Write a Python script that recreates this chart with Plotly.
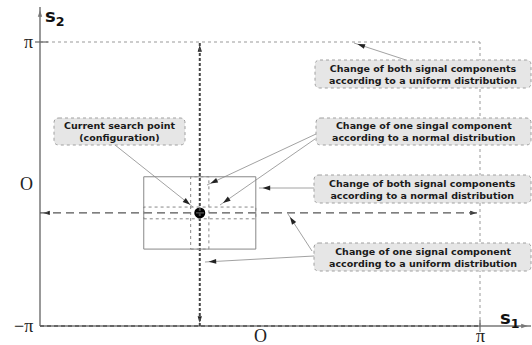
import math
import numpy as np
import plotly.graph_objects as go

PI = np.pi
W, H = 532, 345

# ---- data (radians) ----
tick_vals = [-PI, 0.0, PI]
x_tick_labels = ["", "O", "π"]
y_tick_labels = ["−π", "O", "π"]
point_s1 = [-0.86]          # current search point
point_s2 = [-0.64]
normal_both_half = 0.8      # half size of the square neighbourhood
normal_one_half = 0.13      # half size of the narrow neighbourhoods
callout_texts = [
    "Current search point<br>(configuration)",
    "Change of both signal components<br>according to a uniform distribution",
    "Change of one singal component<br>according to a normal distribution",
    "Change of both signal components<br>according to a normal distribution",
    "Change of one signal component<br>according to a uniform distribution",
]

# ---- pixel <-> data helpers for decoration placement ----
X0PX, XPIPX = 260.0, 220.0
Y0PX, YPIPX = 184.0, 142.0
def dx(px):
    return (px - X0PX) * PI / XPIPX
def dy(py):
    return (Y0PX - py) * PI / YPIPX
def pxx(x):
    return X0PX + x * XPIPX / PI
def pxy(y):
    return Y0PX - y * YPIPX / PI

px0, py0 = point_s1[0], point_s2[0]

fig = go.Figure()
shapes = []
ann = []

def arrow_px(tx, ty, hx, hy, color, width, head=8, line=True, head_color=None):
    """tail (tx,ty) -> head (hx,hy), all in pixel positions of the canvas."""
    vx, vy = hx - tx, hy - ty
    L = math.hypot(vx, vy)
    ux, uy = vx / L, vy / L
    if line:
        fig.add_trace(go.Scatter(x=[dx(tx), dx(hx)], y=[dy(ty), dy(hy)], mode="lines",
                                 line=dict(color=color, width=width),
                                 hoverinfo="skip", showlegend=False, cliponaxis=False))
    off = head * 0.45
    mx, my = hx - ux * off, hy - uy * off
    ang = math.degrees(math.atan2(ux, -uy))
    fig.add_trace(go.Scatter(x=[dx(mx)], y=[dy(my)], mode="markers",
                             marker=dict(symbol="arrow", size=head, angle=ang,
                                         color=head_color or color, line=dict(width=0)),
                             hoverinfo="skip", showlegend=False, cliponaxis=False))

# domain border (dotted) top and right
shapes.append(dict(type="line", x0=-PI, x1=PI, y0=PI, y1=PI,
                   line=dict(color="#999999", width=1, dash="dot")))
shapes.append(dict(type="line", x0=PI, x1=PI, y0=-PI, y1=PI,
                   line=dict(color="#999999", width=1, dash="dot")))

# axes with arrows
arrow_px(pxx(-PI), pxy(-PI), pxx(-PI), 7, "#777777", 1.5, head=7)
arrow_px(pxx(-PI), pxy(-PI), 531, pxy(-PI), "#777777", 1.5, head=7)
# bottom dashed overlay
shapes.append(dict(type="line", x0=-PI, x1=PI, y0=-PI, y1=-PI,
                   line=dict(color="#555555", width=1.3, dash="4px,3px")))

# ticks at pi
shapes.append(dict(type="line", x0=dx(35), x1=dx(48), y0=PI, y1=PI,
                   line=dict(color="#666666", width=1.2)))
shapes.append(dict(type="line", x0=PI, x1=PI, y0=dy(320), y1=dy(332),
                   line=dict(color="#666666", width=1.2)))

# dashed lines through the point
shapes.append(dict(type="line", x0=-PI, x1=PI, y0=py0, y1=py0,
                   line=dict(color="#555555", width=1.3, dash="8px,5px")))
shapes.append(dict(type="line", x0=px0, x1=px0, y0=-PI, y1=PI,
                   line=dict(color="#444444", width=2, dash="3px,2px")))
# arrowheads at the ends of these lines
for (hx, hy, tx, ty) in [(-PI, py0, 0.0, py0), (PI, py0, 0.0, py0),
                         (px0, PI, px0, 0.0), (px0, -PI, px0, 0.0)]:
    arrow_px(pxx(tx), pxy(ty), pxx(hx), pxy(hy), "#222222", 1, head=7, line=False)

# neighbourhoods
shapes.append(dict(type="rect", x0=px0 - normal_both_half, x1=px0 + normal_both_half,
                   y0=py0 - normal_both_half, y1=py0 + normal_both_half,
                   line=dict(color="#888888", width=1)))
shapes.append(dict(type="rect", x0=px0 - normal_one_half, x1=px0 + normal_one_half,
                   y0=py0 - normal_both_half, y1=py0 + normal_both_half,
                   line=dict(color="#888888", width=1, dash="dot")))
shapes.append(dict(type="rect", x0=px0 - normal_both_half, x1=px0 + normal_both_half,
                   y0=py0 - normal_one_half, y1=py0 + normal_one_half,
                   line=dict(color="#888888", width=1, dash="dot")))

# callout pointer arrows: (head px, head py, tail px, tail py)
pointers = [(193, 207, 115, 145), (354, 43, 406, 60), (207, 185, 316, 134),
            (220, 205, 315, 139), (259, 188, 314, 188), (205, 262, 314, 256),
            (288, 214, 312, 251)]
for hx, hy, tx, ty in pointers:
    arrow_px(tx, ty, hx, hy, "#8a8a8a", 0.8, head=8, head_color="#222222")

# search point
fig.add_trace(go.Scatter(x=point_s1, y=point_s2, mode="markers",
                         marker=dict(color="black", size=11, symbol="circle"),
                         hoverinfo="skip", showlegend=False))

# callout boxes (rounded, dotted border)
boxes = [(54, 118, 185, 145), (315, 60, 531, 88), (316, 118, 531, 145),
         (314, 175, 531, 203), (314, 243, 531, 271)]
def rounded(x0, y0, x1, y1, r=5):
    X, Y = dx, dy
    return (f"M {X(x0+r)},{Y(y0)} L {X(x1-r)},{Y(y0)} Q {X(x1)},{Y(y0)} {X(x1)},{Y(y0+r)} "
            f"L {X(x1)},{Y(y1-r)} Q {X(x1)},{Y(y1)} {X(x1-r)},{Y(y1)} "
            f"L {X(x0+r)},{Y(y1)} Q {X(x0)},{Y(y1)} {X(x0)},{Y(y1-r)} "
            f"L {X(x0)},{Y(y0+r)} Q {X(x0)},{Y(y0)} {X(x0+r)},{Y(y0)} Z")
for (bx0, by0, bx1, by1), txt in zip(boxes, callout_texts):
    shapes.append(dict(type="path", path=rounded(bx0, by0, bx1, by1),
                       fillcolor="#e6e6e6", line=dict(color="#a0a0a0", width=1, dash="dot"),
                       layer="above"))
    ann.append(dict(x=dx((bx0 + bx1) / 2), y=dy((by0 + by1) / 2), xref="x", yref="y",
                    text="<b>" + txt + "</b>", showarrow=False,
                    font=dict(family="DejaVu Sans", size=9.5, color="#1a1a1a"),
                    align="center"))

# tick labels
serif = dict(family="Liberation Serif, Times New Roman", size=18, color="#222222")
for v, lab in zip(tick_vals, y_tick_labels):
    ann.append(dict(x=-PI, y=v, xref="x", yref="y", text=lab, showarrow=False,
                    xanchor="right", yanchor="middle", xshift=-5, font=serif))
for v, lab in zip(tick_vals, x_tick_labels):
    if lab:
        ann.append(dict(x=v, y=-PI, xref="x", yref="y", text=lab, showarrow=False,
                        yanchor="top", yshift=2, font=serif))

# axis names
sans_b = dict(family="DejaVu Sans", size=18, color="#111111")
ann.append(dict(x=dx(43), y=dy(17), xref="x", yref="y", text="<b>s<sub>2</sub></b>",
                showarrow=False, xanchor="left", font=sans_b))
ann.append(dict(x=dx(521), y=dy(319), xref="x", yref="y", text="<b>s<sub>1</sub></b>",
                showarrow=False, xanchor="right", font=sans_b))

fig.update_layout(
    width=W, height=H, margin=dict(l=0, r=0, t=0, b=0),
    plot_bgcolor="white", paper_bgcolor="white",
    xaxis=dict(range=[dx(0), dx(W)], visible=False, fixedrange=True),
    yaxis=dict(range=[dy(H), dy(0)], visible=False, fixedrange=True),
    shapes=shapes, annotations=ann, showlegend=False,
)
fig.write_html("out.html", config={"displayModeBar": False},
               post_script="document.body.style.margin='0';document.body.style.overflow='hidden';")
